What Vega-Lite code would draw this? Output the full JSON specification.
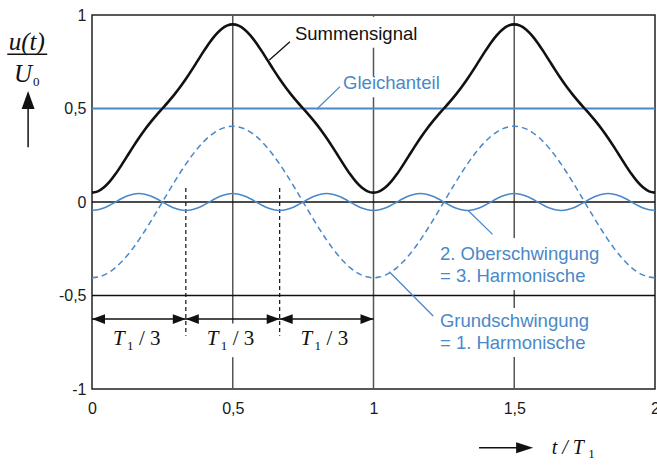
{
  "$schema": "https://vega.github.io/schema/vega-lite/v6.json",
  "width": 563,
  "height": 374,
  "autosize": {"type": "none"},
  "padding": {"left": 92, "top": 15, "right": 2, "bottom": 77},
  "background": "white",
  "config": {
    "locale": {"number": {"decimal": ",", "thousands": ".", "grouping": [3], "currency": ["", " €"], "minus": "-"}},
    "view": {"stroke": "#222", "strokeWidth": 1.5},
    "axis": {"labelFont": "Liberation Sans", "labelFontSize": 16, "labelColor": "#1a1a1a", "grid": false, "ticks": false, "domain": false}
  },
  "datasets": {
    "curves": [
      {"t":0,"g":-0.405,"h":-0.045,"s":0.05},
      {"t":0.02083,"g":-0.40154,"h":-0.04157,"s":0.05689},
      {"t":0.04167,"g":-0.3912,"h":-0.03182,"s":0.07698},
      {"t":0.0625,"g":-0.37417,"h":-0.01722,"s":0.10861},
      {"t":0.08333,"g":-0.35074,"h":0,"s":0.14926},
      {"t":0.10417,"g":-0.32131,"h":0.01722,"s":0.19591},
      {"t":0.125,"g":-0.28638,"h":0.03182,"s":0.24544},
      {"t":0.14583,"g":-0.24655,"h":0.04157,"s":0.29502},
      {"t":0.16667,"g":-0.2025,"h":0.045,"s":0.3425},
      {"t":0.1875,"g":-0.15499,"h":0.04157,"s":0.38658},
      {"t":0.20833,"g":-0.10482,"h":0.03182,"s":0.427},
      {"t":0.22917,"g":-0.05286,"h":0.01722,"s":0.46436},
      {"t":0.25,"g":0,"h":0,"s":0.5},
      {"t":0.27083,"g":0.05286,"h":-0.01722,"s":0.53564},
      {"t":0.29167,"g":0.10482,"h":-0.03182,"s":0.573},
      {"t":0.3125,"g":0.15499,"h":-0.04157,"s":0.61342},
      {"t":0.33333,"g":0.2025,"h":-0.045,"s":0.6575},
      {"t":0.35417,"g":0.24655,"h":-0.04157,"s":0.70498},
      {"t":0.375,"g":0.28638,"h":-0.03182,"s":0.75456},
      {"t":0.39583,"g":0.32131,"h":-0.01722,"s":0.80409},
      {"t":0.41667,"g":0.35074,"h":0,"s":0.85074},
      {"t":0.4375,"g":0.37417,"h":0.01722,"s":0.89139},
      {"t":0.45833,"g":0.3912,"h":0.03182,"s":0.92302},
      {"t":0.47917,"g":0.40154,"h":0.04157,"s":0.94311},
      {"t":0.5,"g":0.405,"h":0.045,"s":0.95},
      {"t":0.52083,"g":0.40154,"h":0.04157,"s":0.94311},
      {"t":0.54167,"g":0.3912,"h":0.03182,"s":0.92302},
      {"t":0.5625,"g":0.37417,"h":0.01722,"s":0.89139},
      {"t":0.58333,"g":0.35074,"h":0,"s":0.85074},
      {"t":0.60417,"g":0.32131,"h":-0.01722,"s":0.80409},
      {"t":0.625,"g":0.28638,"h":-0.03182,"s":0.75456},
      {"t":0.64583,"g":0.24655,"h":-0.04157,"s":0.70498},
      {"t":0.66667,"g":0.2025,"h":-0.045,"s":0.6575},
      {"t":0.6875,"g":0.15499,"h":-0.04157,"s":0.61342},
      {"t":0.70833,"g":0.10482,"h":-0.03182,"s":0.573},
      {"t":0.72917,"g":0.05286,"h":-0.01722,"s":0.53564},
      {"t":0.75,"g":0,"h":0,"s":0.5},
      {"t":0.77083,"g":-0.05286,"h":0.01722,"s":0.46436},
      {"t":0.79167,"g":-0.10482,"h":0.03182,"s":0.427},
      {"t":0.8125,"g":-0.15499,"h":0.04157,"s":0.38658},
      {"t":0.83333,"g":-0.2025,"h":0.045,"s":0.3425},
      {"t":0.85417,"g":-0.24655,"h":0.04157,"s":0.29502},
      {"t":0.875,"g":-0.28638,"h":0.03182,"s":0.24544},
      {"t":0.89583,"g":-0.32131,"h":0.01722,"s":0.19591},
      {"t":0.91667,"g":-0.35074,"h":0,"s":0.14926},
      {"t":0.9375,"g":-0.37417,"h":-0.01722,"s":0.10861},
      {"t":0.95833,"g":-0.3912,"h":-0.03182,"s":0.07698},
      {"t":0.97917,"g":-0.40154,"h":-0.04157,"s":0.05689},
      {"t":1,"g":-0.405,"h":-0.045,"s":0.05},
      {"t":1.02083,"g":-0.40154,"h":-0.04157,"s":0.05689},
      {"t":1.04167,"g":-0.3912,"h":-0.03182,"s":0.07698},
      {"t":1.0625,"g":-0.37417,"h":-0.01722,"s":0.10861},
      {"t":1.08333,"g":-0.35074,"h":0,"s":0.14926},
      {"t":1.10417,"g":-0.32131,"h":0.01722,"s":0.19591},
      {"t":1.125,"g":-0.28638,"h":0.03182,"s":0.24544},
      {"t":1.14583,"g":-0.24655,"h":0.04157,"s":0.29502},
      {"t":1.16667,"g":-0.2025,"h":0.045,"s":0.3425},
      {"t":1.1875,"g":-0.15499,"h":0.04157,"s":0.38658},
      {"t":1.20833,"g":-0.10482,"h":0.03182,"s":0.427},
      {"t":1.22917,"g":-0.05286,"h":0.01722,"s":0.46436},
      {"t":1.25,"g":0,"h":0,"s":0.5},
      {"t":1.27083,"g":0.05286,"h":-0.01722,"s":0.53564},
      {"t":1.29167,"g":0.10482,"h":-0.03182,"s":0.573},
      {"t":1.3125,"g":0.15499,"h":-0.04157,"s":0.61342},
      {"t":1.33333,"g":0.2025,"h":-0.045,"s":0.6575},
      {"t":1.35417,"g":0.24655,"h":-0.04157,"s":0.70498},
      {"t":1.375,"g":0.28638,"h":-0.03182,"s":0.75456},
      {"t":1.39583,"g":0.32131,"h":-0.01722,"s":0.80409},
      {"t":1.41667,"g":0.35074,"h":0,"s":0.85074},
      {"t":1.4375,"g":0.37417,"h":0.01722,"s":0.89139},
      {"t":1.45833,"g":0.3912,"h":0.03182,"s":0.92302},
      {"t":1.47917,"g":0.40154,"h":0.04157,"s":0.94311},
      {"t":1.5,"g":0.405,"h":0.045,"s":0.95},
      {"t":1.52083,"g":0.40154,"h":0.04157,"s":0.94311},
      {"t":1.54167,"g":0.3912,"h":0.03182,"s":0.92302},
      {"t":1.5625,"g":0.37417,"h":0.01722,"s":0.89139},
      {"t":1.58333,"g":0.35074,"h":0,"s":0.85074},
      {"t":1.60417,"g":0.32131,"h":-0.01722,"s":0.80409},
      {"t":1.625,"g":0.28638,"h":-0.03182,"s":0.75456},
      {"t":1.64583,"g":0.24655,"h":-0.04157,"s":0.70498},
      {"t":1.66667,"g":0.2025,"h":-0.045,"s":0.6575},
      {"t":1.6875,"g":0.15499,"h":-0.04157,"s":0.61342},
      {"t":1.70833,"g":0.10482,"h":-0.03182,"s":0.573},
      {"t":1.72917,"g":0.05286,"h":-0.01722,"s":0.53564},
      {"t":1.75,"g":0,"h":0,"s":0.5},
      {"t":1.77083,"g":-0.05286,"h":0.01722,"s":0.46436},
      {"t":1.79167,"g":-0.10482,"h":0.03182,"s":0.427},
      {"t":1.8125,"g":-0.15499,"h":0.04157,"s":0.38658},
      {"t":1.83333,"g":-0.2025,"h":0.045,"s":0.3425},
      {"t":1.85417,"g":-0.24655,"h":0.04157,"s":0.29502},
      {"t":1.875,"g":-0.28638,"h":0.03182,"s":0.24544},
      {"t":1.89583,"g":-0.32131,"h":0.01722,"s":0.19591},
      {"t":1.91667,"g":-0.35074,"h":0,"s":0.14926},
      {"t":1.9375,"g":-0.37417,"h":-0.01722,"s":0.10861},
      {"t":1.95833,"g":-0.3912,"h":-0.03182,"s":0.07698},
      {"t":1.97917,"g":-0.40154,"h":-0.04157,"s":0.05689},
      {"t":2,"g":-0.405,"h":-0.045,"s":0.05}
    ]
  },
  "layer": [
    {
      "data": {"values": [{"t":0.5},{"t":1},{"t":1.5}]},
      "mark": {"type": "rule", "color": "#555", "strokeWidth": 1.5},
      "encoding": {
        "x": {"field": "t", "type": "quantitative", "scale": {"domain": [0, 2], "nice": false, "zero": false},
              "axis": {"title": null, "values": [0, 0.5, 1, 1.5, 2], "format": "~g", "labelPadding": 11, "labelFlush": false}},
        "y": {"datum": -1, "type": "quantitative", "scale": {"domain": [-1, 1], "nice": false, "zero": false},
              "axis": {"title": null, "values": [-1, -0.5, 0, 0.5, 1], "format": "~g", "labelPadding": 6, "labelFlush": false}},
        "y2": {"datum": 1}
      }
    },
    {
      "data": {"values": [{"v":0},{"v":-0.5}]},
      "mark": {"type": "rule", "color": "#111", "strokeWidth": 1.4},
      "encoding": {
        "x": {"datum": 0, "type": "quantitative"},
        "x2": {"datum": 2},
        "y": {"field": "v", "type": "quantitative"}
      }
    },
    {
      "data": {"values": [
        {"a":0.985,"b":1.015,"c":0.825,"d":0.99},
        {"a":0.985,"b":1.015,"c":0.56,"d":0.67},
        {"a":1.485,"b":1.515,"c":-0.193,"d":-0.471},
        {"a":1.485,"b":1.515,"c":-0.567,"d":-0.829},
        {"a":0.485,"b":0.515,"c":-0.65,"d":-0.83}
      ]},
      "mark": {"type": "rect", "color": "white"},
      "encoding": {
        "x": {"field": "a", "type": "quantitative"},
        "x2": {"field": "b"},
        "y": {"field": "c", "type": "quantitative"},
        "y2": {"field": "d"}
      }
    },
    {
      "data": {"values": [{"t":0.33333},{"t":0.66667}]},
      "mark": {"type": "rule", "color": "#111", "strokeWidth": 1.2, "strokeDash": [4, 3]},
      "encoding": {
        "x": {"field": "t", "type": "quantitative"},
        "y": {"datum": 0.075, "type": "quantitative"},
        "y2": {"datum": -0.715}
      }
    },
    {
      "data": {"values": [{"a":0,"b":1,"v":-0.626}]},
      "mark": {"type": "rule", "color": "#111", "strokeWidth": 1.4},
      "encoding": {
        "x": {"field": "a", "type": "quantitative"},
        "x2": {"field": "b"},
        "y": {"field": "v", "type": "quantitative"}
      }
    },
    {
      "data": {"values": [{"t":0,"v":-0.626},{"t":0.33333,"v":-0.626},{"t":0.66667,"v":-0.626}]},
      "mark": {"type": "point", "shape": "M0,0L2,-0.75L2,0.75Z", "filled": true, "opacity": 1, "color": "#111", "size": 169},
      "encoding": {
        "x": {"field": "t", "type": "quantitative"},
        "y": {"field": "v", "type": "quantitative"}
      }
    },
    {
      "data": {"values": [{"t":0.33333,"v":-0.626},{"t":0.66667,"v":-0.626},{"t":1,"v":-0.626}]},
      "mark": {"type": "point", "shape": "M0,0L-2,-0.75L-2,0.75Z", "filled": true, "opacity": 1, "color": "#111", "size": 169},
      "encoding": {
        "x": {"field": "t", "type": "quantitative"},
        "y": {"field": "v", "type": "quantitative"}
      }
    },
    {
      "data": {"values": [{"v":0.5}]},
      "mark": {"type": "rule", "color": "#4a88c7", "strokeWidth": 2.2},
      "encoding": {
        "x": {"datum": 0, "type": "quantitative"},
        "x2": {"datum": 2},
        "y": {"field": "v", "type": "quantitative"}
      }
    },
    {
      "data": {"name": "curves"},
      "mark": {"type": "line", "color": "#4a88c7", "strokeWidth": 1.5, "strokeDash": [6, 4], "interpolate": "monotone"},
      "encoding": {
        "x": {"field": "t", "type": "quantitative"},
        "y": {"field": "g", "type": "quantitative"}
      }
    },
    {
      "data": {"name": "curves"},
      "mark": {"type": "line", "color": "#4a88c7", "strokeWidth": 1.5, "interpolate": "monotone"},
      "encoding": {
        "x": {"field": "t", "type": "quantitative"},
        "y": {"field": "h", "type": "quantitative"}
      }
    },
    {
      "data": {"name": "curves"},
      "mark": {"type": "line", "color": "#111", "strokeWidth": 2.6, "interpolate": "monotone"},
      "encoding": {
        "x": {"field": "t", "type": "quantitative"},
        "y": {"field": "s", "type": "quantitative"}
      }
    },
    {
      "data": {"values": [{"a":0.63,"b":0.703,"c":0.759,"d":0.857}]},
      "mark": {"type": "rule", "color": "#111", "strokeWidth": 1.3},
      "encoding": {
        "x": {"field": "a", "type": "quantitative"},
        "x2": {"field": "b"},
        "y": {"field": "c", "type": "quantitative"},
        "y2": {"field": "d"}
      }
    },
    {
      "data": {"values": [
        {"a":0.798,"b":0.881,"c":0.496,"d":0.617},
        {"a":1.337,"b":1.423,"c":-0.047,"d":-0.173},
        {"a":1.056,"b":1.212,"c":-0.373,"d":-0.61}
      ]},
      "mark": {"type": "rule", "color": "#4a88c7", "strokeWidth": 1.3},
      "encoding": {
        "x": {"field": "a", "type": "quantitative"},
        "x2": {"field": "b"},
        "y": {"field": "c", "type": "quantitative"},
        "y2": {"field": "d"}
      }
    },
    {
      "data": {"values": [{"t":0.721,"v":0.898,"label":"Summensignal"}]},
      "mark": {"type": "text", "align": "left", "baseline": "middle", "font": "Liberation Sans", "fontSize": 18.5, "color": "#111"},
      "encoding": {
        "x": {"field": "t", "type": "quantitative"},
        "y": {"field": "v", "type": "quantitative"},
        "text": {"field": "label"}
      }
    },
    {
      "data": {"values": [
        {"t":0.892,"v":0.636,"label":"Gleichanteil"},
        {"t":1.236,"v":-0.278,"label":"2. Oberschwingung"},
        {"t":1.236,"v":-0.396,"label":"= 3. Harmonische"},
        {"t":1.236,"v":-0.636,"label":"Grundschwingung"},
        {"t":1.236,"v":-0.754,"label":"= 1. Harmonische"}
      ]},
      "mark": {"type": "text", "align": "left", "baseline": "middle", "font": "Liberation Sans", "fontSize": 18.5, "color": "#4a88c7"},
      "encoding": {
        "x": {"field": "t", "type": "quantitative"},
        "y": {"field": "v", "type": "quantitative"},
        "text": {"field": "label"}
      }
    },
    {
      "data": {"values": [{"t":0.16667,"v":-0.733,"label":"T"},{"t":0.5,"v":-0.733,"label":"T"},{"t":0.83333,"v":-0.733,"label":"T"}]},
      "mark": {"type": "text", "align": "left", "baseline": "middle", "dx": -26, "font": "Liberation Serif", "fontStyle": "italic", "fontSize": 21, "color": "#111"},
      "encoding": {
        "x": {"field": "t", "type": "quantitative"},
        "y": {"field": "v", "type": "quantitative"},
        "text": {"field": "label"}
      }
    },
    {
      "data": {"values": [{"t":0.16667,"v":-0.733,"label":"1"},{"t":0.5,"v":-0.733,"label":"1"},{"t":0.83333,"v":-0.733,"label":"1"}]},
      "mark": {"type": "text", "align": "left", "baseline": "middle", "dx": -12, "dy": 7, "font": "Liberation Serif", "fontSize": 13, "color": "#111"},
      "encoding": {
        "x": {"field": "t", "type": "quantitative"},
        "y": {"field": "v", "type": "quantitative"},
        "text": {"field": "label"}
      }
    },
    {
      "data": {"values": [{"t":0.16667,"v":-0.733,"label":"/ 3"},{"t":0.5,"v":-0.733,"label":"/ 3"},{"t":0.83333,"v":-0.733,"label":"/ 3"}]},
      "mark": {"type": "text", "align": "left", "baseline": "middle", "dx": 0, "font": "Liberation Serif", "fontSize": 21, "color": "#111"},
      "encoding": {
        "x": {"field": "t", "type": "quantitative"},
        "y": {"field": "v", "type": "quantitative"},
        "text": {"field": "label"}
      }
    },
    {
      "data": {"values": [
        {"a":1.375,"b":1.54,"c":-1.314,"d":-1.314},
        {"a":-0.227,"b":-0.227,"c":0.293,"d":0.55},
        {"a":-0.301,"b":-0.159,"c":0.79,"d":0.79}
      ]},
      "mark": {"type": "rule", "color": "#111", "strokeWidth": 1.5},
      "encoding": {
        "x": {"field": "a", "type": "quantitative"},
        "x2": {"field": "b"},
        "y": {"field": "c", "type": "quantitative"},
        "y2": {"field": "d"}
      }
    },
    {
      "data": {"values": [{"t":1.567,"v":-1.314}]},
      "mark": {"type": "point", "shape": "M0,0L-2,-0.65L-2,0.65Z", "filled": true, "opacity": 1, "color": "#111", "size": 289},
      "encoding": {
        "x": {"field": "t", "type": "quantitative"},
        "y": {"field": "v", "type": "quantitative"}
      }
    },
    {
      "data": {"values": [{"t":-0.227,"v":0.593}]},
      "mark": {"type": "point", "shape": "M0,0L-0.72,2L0.72,2Z", "filled": true, "opacity": 1, "color": "#111", "size": 324},
      "encoding": {
        "x": {"field": "t", "type": "quantitative"},
        "y": {"field": "v", "type": "quantitative"}
      }
    },
    {
      "data": {"values": [{"t":1.633,"v":-1.314,"label":"t / T"}]},
      "mark": {"type": "text", "align": "left", "baseline": "middle", "font": "Liberation Serif", "fontStyle": "italic", "fontSize": 20, "color": "#111"},
      "encoding": {
        "x": {"field": "t", "type": "quantitative"},
        "y": {"field": "v", "type": "quantitative"},
        "text": {"field": "label"}
      }
    },
    {
      "data": {"values": [
        {"t":-0.232,"v":0.857,"label":"u(t)"},
        {"t":-0.245,"v":0.684,"label":"U"}
      ]},
      "mark": {"type": "text", "align": "center", "baseline": "middle", "font": "Liberation Serif", "fontStyle": "italic", "fontSize": 25, "color": "#111"},
      "encoding": {
        "x": {"field": "t", "type": "quantitative"},
        "y": {"field": "v", "type": "quantitative"},
        "text": {"field": "label"}
      }
    },
    {
      "data": {"values": [
        {"t":1.763,"v":-1.35,"label":"1"},
        {"t":-0.21,"v":0.643,"label":"0"}
      ]},
      "mark": {"type": "text", "align": "left", "baseline": "middle", "font": "Liberation Serif", "fontSize": 13, "color": "#111"},
      "encoding": {
        "x": {"field": "t", "type": "quantitative"},
        "y": {"field": "v", "type": "quantitative"},
        "text": {"field": "label"}
      }
    }
  ]
}
